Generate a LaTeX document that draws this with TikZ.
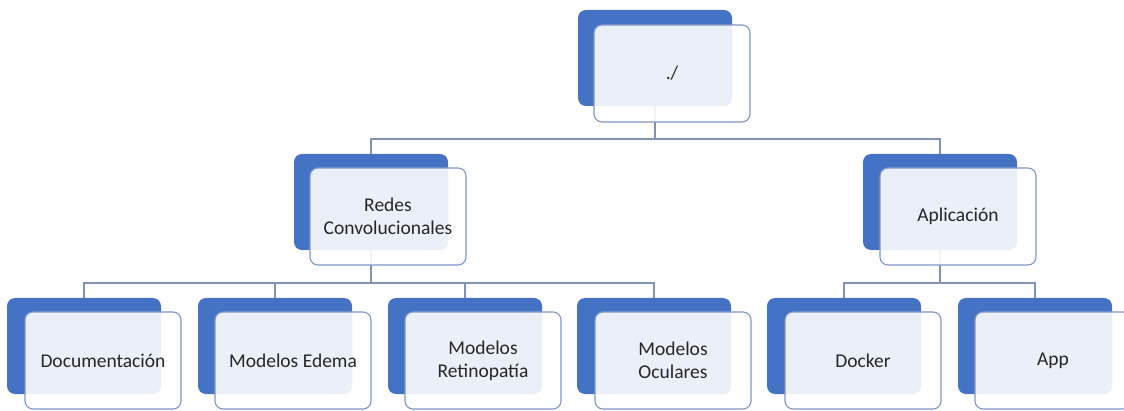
\documentclass[tikz,border=0pt]{standalone}
\usepackage{fontspec}
\setmainfont{Carlito}
\definecolor{accentblue}{HTML}{4472C4}
\definecolor{frameblue}{HTML}{7F96C6}
\definecolor{linkblue}{HTML}{7F93B8}
\definecolor{labelgray}{HTML}{262626}
\tikzset{
  backbox/.style={anchor=north west, draw=none, fill=accentblue, rounded corners=8pt,
    minimum width=154pt, minimum height=96pt, inner sep=0pt, outer sep=0pt},
  frontbox/.style={anchor=north west, draw=frameblue, line width=1.1pt, fill=white,
    fill opacity=0.89, text opacity=1, rounded corners=8pt,
    minimum width=156pt, minimum height=97pt, inner sep=0pt, outer sep=0pt,
    align=center, text=labelgray,
    font=\fontsize{19.5pt}{23pt}\selectfont},
  link/.style={draw=linkblue, line width=1.3pt},
}
\begin{document}
\begin{tikzpicture}[x=1pt,y=-1pt]
\useasboundingbox (0,0) rectangle (1124,411);

% back (blue) cards
\node[backbox] (rootB) at (578,10) {};
\node[backbox] (redesB) at (294,154) {};
\node[backbox] (aplB) at (863,154) {};
\node[backbox] (docB) at (7,298) {};
\node[backbox] (edemaB) at (198,298) {};
\node[backbox] (retB) at (388,298) {};
\node[backbox] (ocuB) at (577,298) {};
\node[backbox] (dockB) at (767,298) {};
\node[backbox] (appB) at (958,298) {};

% tree connectors
\draw[link] (rootB.south) -- ++(0,33) -| (redesB.north);
\draw[link] (rootB.south) -- ++(0,33) -| (aplB.north);
\foreach \c in {docB,edemaB,retB,ocuB}
  \draw[link] (redesB.south) -- ++(0,33) -| (\c.north);
\foreach \c in {dockB,appB}
  \draw[link] (aplB.south) -- ++(0,33) -| (\c.north);

% front (light) cards with labels
\node[frontbox] (root) at (594,25) {./};
\node[frontbox] (redes) at (310,168) {Redes\\Convolucionales};
\node[frontbox] (apl) at (880,168) {Aplicación};
\node[frontbox] (doc) at (25,312) {Documentación};
\node[frontbox] (edema) at (215,312) {Modelos Edema};
\node[frontbox] (ret) at (405,312) {Modelos\\Retinopatía};
\node[frontbox] (ocu) at (595,312) {Modelos\\Oculares};
\node[frontbox] (dock) at (785,312) {Docker};
\node[frontbox] (app) at (975,312) {App};
\end{tikzpicture}
\end{document}
